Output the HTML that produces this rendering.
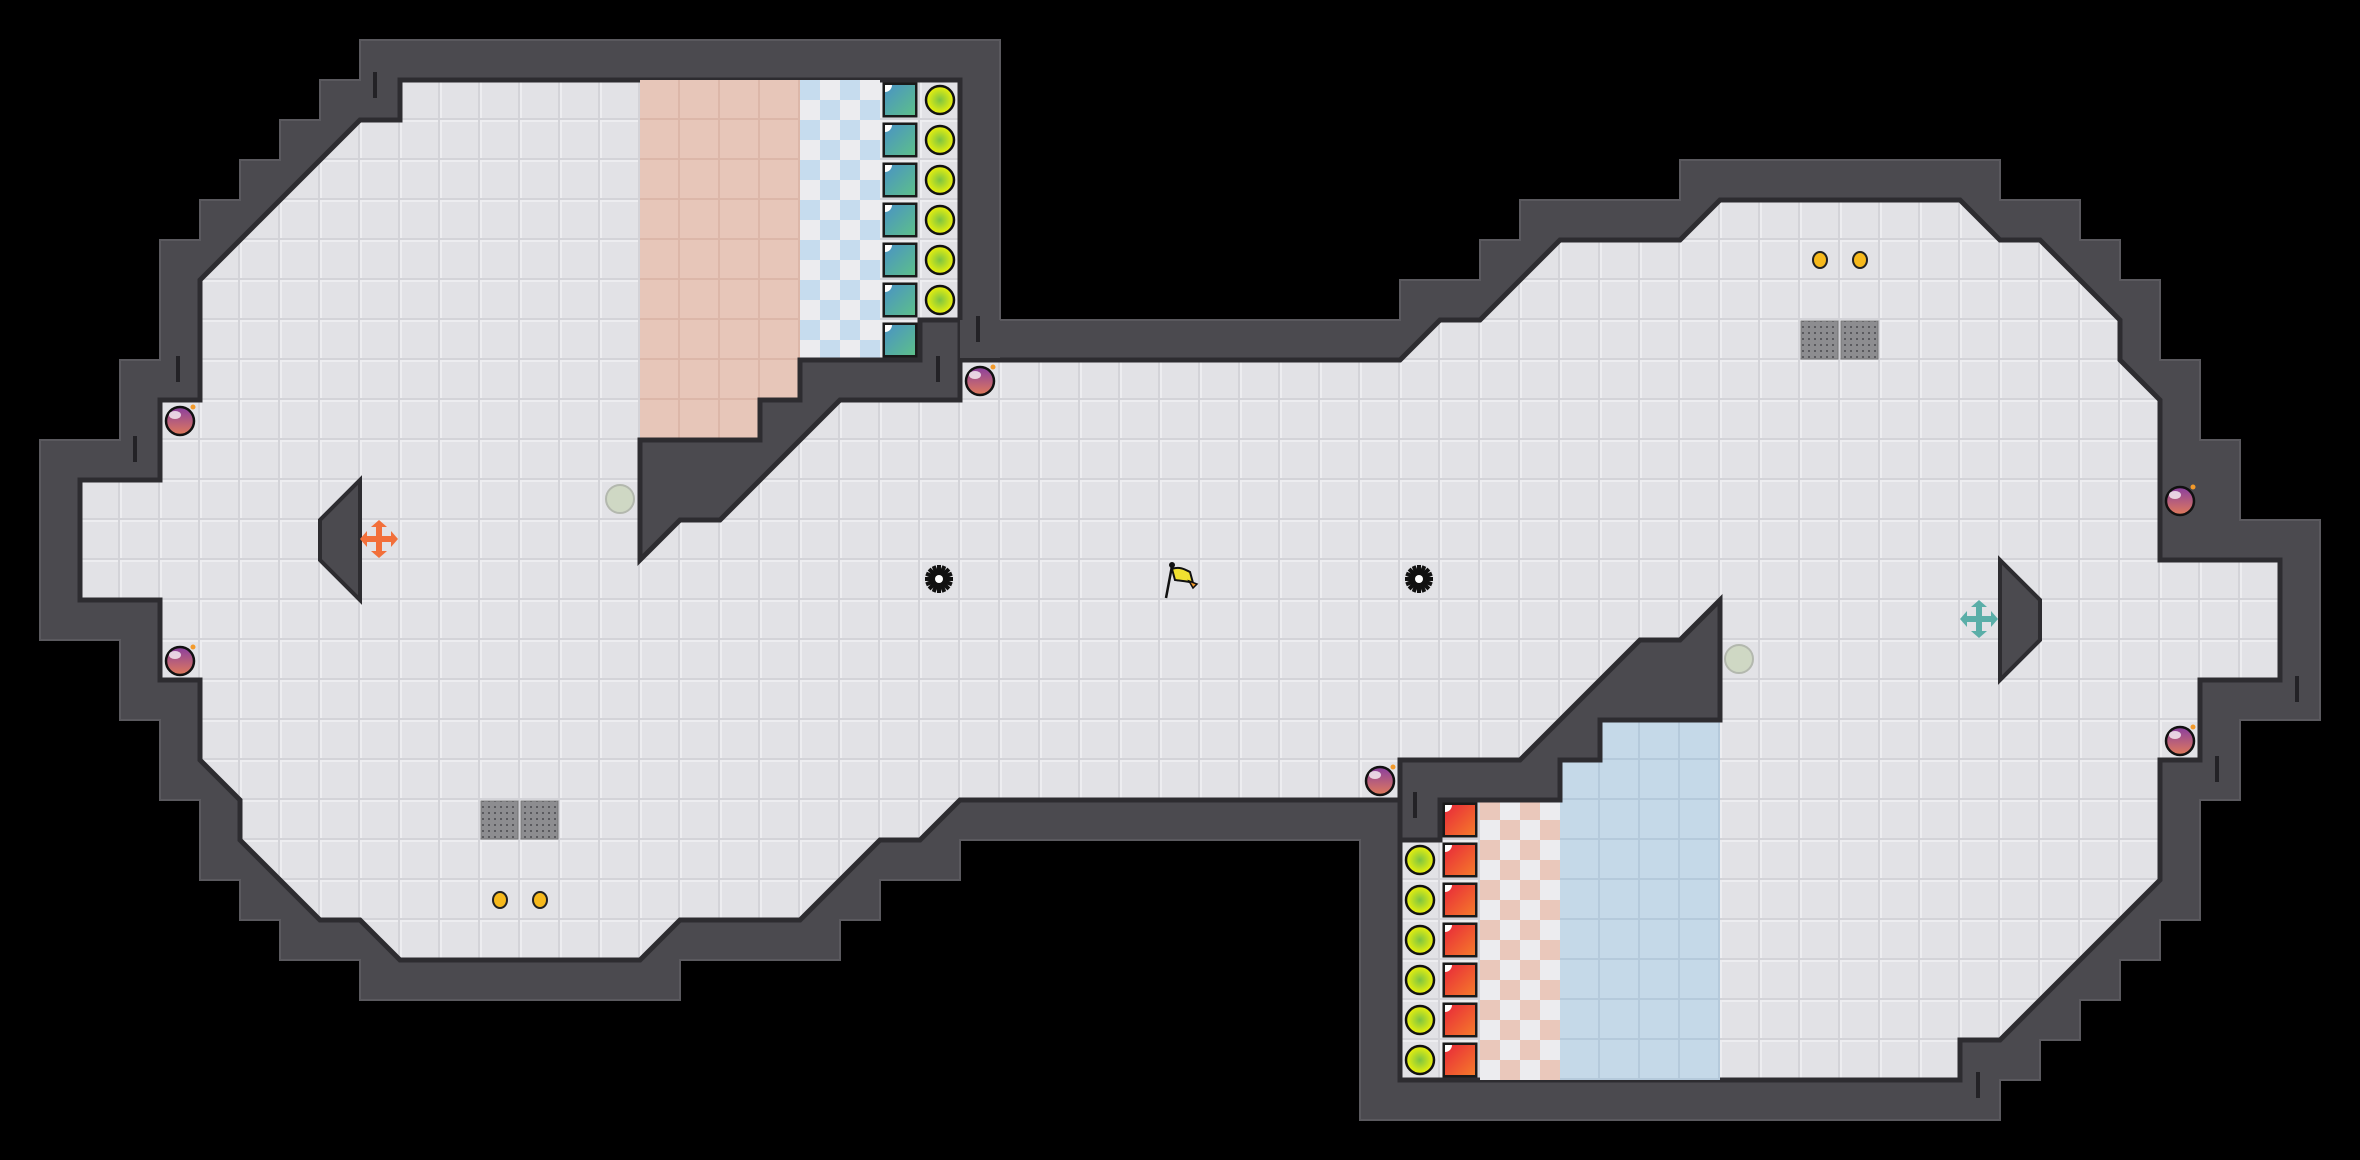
<!DOCTYPE html>
<html><head><meta charset="utf-8"><style>html,body{margin:0;padding:0;background:#000;}svg{display:block}</style></head>
<body>
<svg width="2360" height="1160" viewBox="0 0 2360 1160" xmlns="http://www.w3.org/2000/svg">
<defs>
<pattern id="tile" width="40" height="40" patternUnits="userSpaceOnUse">
<rect width="40" height="40" fill="#e2e2e6"/>
<rect x="0" y="0" width="40" height="2" fill="#ededf0"/>
<rect x="0" y="0" width="2" height="40" fill="#ededf0"/>
<rect x="0" y="38" width="40" height="2" fill="#d3d3d8"/>
<rect x="38" y="0" width="2" height="40" fill="#d3d3d8"/>
</pattern>
<pattern id="pink" width="40" height="40" patternUnits="userSpaceOnUse">
<rect width="40" height="40" fill="#e7c6b9"/>
<rect x="0" y="38" width="40" height="2" fill="#dcb7a9"/>
<rect x="38" y="0" width="2" height="40" fill="#dcb7a9"/>
</pattern>
<pattern id="blue" width="40" height="40" patternUnits="userSpaceOnUse">
<rect width="40" height="40" fill="#c5d9e8"/>
<rect x="0" y="38" width="40" height="2" fill="#b5cadb"/>
<rect x="38" y="0" width="2" height="40" fill="#b5cadb"/>
</pattern>
<pattern id="chkb" width="40" height="40" patternUnits="userSpaceOnUse">
<rect width="40" height="40" fill="#ececef"/>
<rect x="0" y="0" width="20" height="20" fill="#c6dcee"/>
<rect x="20" y="20" width="20" height="20" fill="#c6dcee"/>
</pattern>
<pattern id="chkp" width="40" height="40" patternUnits="userSpaceOnUse">
<rect width="40" height="40" fill="#ececef"/>
<rect x="0" y="0" width="20" height="20" fill="#eac8bb"/>
<rect x="20" y="20" width="20" height="20" fill="#eac8bb"/>
</pattern>
<radialGradient id="yel" cx="0.5" cy="0.5" r="0.5"><stop offset="0" stop-color="#7cc443"/><stop offset="1" stop-color="#eef20a"/></radialGradient>
<linearGradient id="teal" x1="0" y1="0" x2="1" y2="1"><stop offset="0" stop-color="#4a93c4"/><stop offset="1" stop-color="#5dbf8a"/></linearGradient>
<linearGradient id="red" x1="0" y1="0" x2="1" y2="1"><stop offset="0" stop-color="#e8293a"/><stop offset="1" stop-color="#f57a2a"/></linearGradient>
<linearGradient id="bomb" x1="0" y1="0" x2="0" y2="1"><stop offset="0" stop-color="#8a3fa0"/><stop offset="1" stop-color="#e07a5a"/></linearGradient>
<pattern id="grate" width="6" height="6" patternUnits="userSpaceOnUse"><rect width="6" height="6" fill="#8d8d90"/><rect x="2" y="2" width="2" height="2" fill="#5a5a5e"/></pattern>
<g id="ycirc"><circle cx="20" cy="20" r="14" fill="url(#yel)" stroke="#111" stroke-width="2.5"/></g>
<g id="tsq"><rect x="2.5" y="2.5" width="35" height="35" fill="#1a1a1a"/><rect x="5" y="5" width="30" height="30" fill="url(#teal)"/><path d="M5 5 h7 a7 7 0 0 1 -7 7z" fill="#fff"/></g>
<g id="rsq"><rect x="2.5" y="2.5" width="35" height="35" fill="#1a1a1a"/><rect x="5" y="5" width="30" height="30" fill="url(#red)"/><path d="M5 5 h7 a7 7 0 0 1 -7 7z" fill="#fff"/></g>
<g id="bmb"><circle cx="20" cy="21" r="14" fill="url(#bomb)" stroke="#111" stroke-width="2.5"/><ellipse cx="15" cy="15" rx="6" ry="4" fill="#fff" opacity="0.75"/><circle cx="33" cy="7" r="2.5" fill="#f39a2a"/></g>
<g id="gear"><circle cx="0" cy="0" r="10" fill="#111"/><g fill="#111"><rect x="-2" y="-14" width="4" height="28"/><rect x="-14" y="-2" width="28" height="4"/><rect x="-2" y="-14" width="4" height="28" transform="rotate(45)"/><rect x="-2" y="-14" width="4" height="28" transform="rotate(-45)"/><rect x="-2" y="-14" width="4" height="28" transform="rotate(22.5)"/><rect x="-2" y="-14" width="4" height="28" transform="rotate(-22.5)"/><rect x="-2" y="-14" width="4" height="28" transform="rotate(67.5)"/><rect x="-2" y="-14" width="4" height="28" transform="rotate(-67.5)"/></g><circle cx="0" cy="0" r="4" fill="#fff"/></g>
</defs>

<!-- outer wall -->
<polygon fill="#4b4a4f" stroke="#5a595e" stroke-width="2" points="360,40 1000,40 1000,320 1400,320 1400,280 1480,280 1480,240 1520,240 1520,200 1680,200 1680,160 2000,160 2000,200 2080,200 2080,240 2120,240 2120,280 2160,280 2160,360 2200,360 2200,440 2240,440 2240,520 2320,520 2320,720 2240,720 2240,800 2200,800 2200,920 2160,920 2160,960 2120,960 2120,1000 2080,1000 2080,1040 2040,1040 2040,1080 2000,1080 2000,1120 1360,1120 1360,840 960,840 960,880 880,880 880,920 840,920 840,960 680,960 680,1000 360,1000 360,960 280,960 280,920 240,920 240,880 200,880 200,800 160,800 160,720 120,720 120,640 40,640 40,440 120,440 120,360 160,360 160,240 200,240 200,200 240,200 240,160 280,160 280,120 320,120 320,80 360,80"/>

<!-- floor -->
<polygon fill="url(#tile)" stroke="#2d2c30" stroke-width="5" stroke-linejoin="miter" points="400,80 960,80 960,360 1400,360 1440,320 1480,320 1560,240 1680,240 1720,200 1960,200 2000,240 2040,240 2120,320 2120,360 2160,400 2160,560 2280,560 2280,680 2200,680 2200,760 2160,760 2160,880 2000,1040 1960,1040 1960,1080 1400,1080 1400,800 960,800 920,840 880,840 800,920 680,920 640,960 400,960 360,920 320,920 240,840 240,800 200,760 200,680 160,680 160,600 80,600 80,480 160,480 160,400 200,400 200,280 360,120 400,120"/>

<!-- colored zones -->
<rect x="640" y="80" width="160" height="320" fill="url(#pink)"/>
<rect x="640" y="400" width="120" height="40" fill="url(#pink)"/>
<rect x="800" y="80" width="80" height="280" fill="url(#chkb)"/>
<rect x="1560" y="760" width="160" height="320" fill="url(#blue)"/>
<rect x="1600" y="720" width="120" height="40" fill="url(#blue)"/>
<rect x="1480" y="800" width="80" height="280" fill="url(#chkp)"/>

<!-- inner dark blocks -->
<polygon fill="#4b4a4f" stroke="#2d2c30" stroke-width="5" points="640,440 760,440 760,400 800,400 800,360 920,360 920,320 960,320 960,400 840,400 720,520 680,520 640,560"/>
<polygon fill="#4b4a4f" stroke="#2d2c30" stroke-width="5" points="1400,760 1520,760 1640,640 1680,640 1720,600 1720,720 1600,720 1600,760 1560,760 1560,800 1440,800 1440,840 1400,840"/>
<polygon fill="#4b4a4f" stroke="#2d2c30" stroke-width="4" points="360,480 360,600 320,560 320,520"/>
<polygon fill="#4b4a4f" stroke="#2d2c30" stroke-width="4" points="2000,560 2040,600 2040,640 2000,680"/>
<!-- redraw top wall edge cover near room right -->
<rect x="960" y="320" width="40" height="38" fill="#4b4a4f"/>

<!-- wall ticks -->
<g fill="#232226">
<rect x="373" y="72" width="4" height="26"/><rect x="176" y="356" width="4" height="26"/><rect x="133" y="436" width="4" height="26"/>
<rect x="976" y="316" width="4" height="26"/><rect x="936" y="356" width="4" height="26"/><rect x="1413" y="792" width="4" height="26"/>
<rect x="1976" y="1072" width="4" height="26"/><rect x="2215" y="756" width="4" height="26"/><rect x="2295" y="676" width="4" height="26"/>
</g>

<!-- teal squares -->
<use href="#tsq" x="880" y="80"/><use href="#tsq" x="880" y="120"/><use href="#tsq" x="880" y="160"/><use href="#tsq" x="880" y="200"/><use href="#tsq" x="880" y="240"/><use href="#tsq" x="880" y="280"/><use href="#tsq" x="880" y="320"/>
<!-- yellow circles left -->
<use href="#ycirc" x="920" y="80"/><use href="#ycirc" x="920" y="120"/><use href="#ycirc" x="920" y="160"/><use href="#ycirc" x="920" y="200"/><use href="#ycirc" x="920" y="240"/><use href="#ycirc" x="920" y="280"/>
<!-- red squares -->
<use href="#rsq" x="1440" y="800"/><use href="#rsq" x="1440" y="840"/><use href="#rsq" x="1440" y="880"/><use href="#rsq" x="1440" y="920"/><use href="#rsq" x="1440" y="960"/><use href="#rsq" x="1440" y="1000"/><use href="#rsq" x="1440" y="1040"/>
<!-- yellow circles right -->
<use href="#ycirc" x="1400" y="840"/><use href="#ycirc" x="1400" y="880"/><use href="#ycirc" x="1400" y="920"/><use href="#ycirc" x="1400" y="960"/><use href="#ycirc" x="1400" y="1000"/><use href="#ycirc" x="1400" y="1040"/>

<!-- bombs -->
<use href="#bmb" x="160" y="400"/><use href="#bmb" x="160" y="640"/><use href="#bmb" x="960" y="360"/><use href="#bmb" x="1360" y="760"/><use href="#bmb" x="2160" y="480"/><use href="#bmb" x="2160" y="720"/>

<!-- pale ellipses -->
<circle cx="620" cy="499" r="14" fill="#cfd8c4" stroke="#b3b8ae" stroke-width="2"/>
<circle cx="1739" cy="659" r="14" fill="#cfd8c4" stroke="#b3b8ae" stroke-width="2"/>

<!-- crosses -->
<g transform="translate(379,539)" fill="#f26f3a"><rect x="-14" y="-3" width="28" height="6"/><rect x="-3" y="-14" width="6" height="28"/><path d="M-8 -12 L0 -19 L8 -12Z M-8 12 L0 19 L8 12Z M-12 -8 L-19 0 L-12 8Z M12 -8 L19 0 L12 8Z"/></g>
<g transform="translate(1979,619)" fill="#5aaea8"><rect x="-14" y="-3" width="28" height="6"/><rect x="-3" y="-14" width="6" height="28"/><path d="M-8 -12 L0 -19 L8 -12Z M-8 12 L0 19 L8 12Z M-12 -8 L-19 0 L-12 8Z M12 -8 L19 0 L12 8Z"/></g>

<!-- gears -->
<use href="#gear" transform="translate(939,579)"/>
<use href="#gear" transform="translate(1419,579)"/>

<!-- flag -->
<g transform="translate(1160,560)">
<line x1="6" y1="38" x2="12" y2="6" stroke="#111" stroke-width="2.5"/>
<circle cx="12" cy="5" r="3" fill="#111"/>
<path d="M12 9 C20 6 26 10 30 12 L33 23 C28 21 22 21 15 20Z" fill="#f0e030" stroke="#111" stroke-width="2"/>
<path d="M29 21 L37 24 L33 28 Z" fill="#f39a2a" stroke="#111" stroke-width="1.5"/>
</g>

<!-- grates -->
<rect x="1801" y="321" width="37" height="38" fill="url(#grate)" stroke="#777" stroke-width="1"/>
<rect x="1841" y="321" width="37" height="38" fill="url(#grate)" stroke="#777" stroke-width="1"/>
<rect x="481" y="801" width="37" height="38" fill="url(#grate)" stroke="#777" stroke-width="1"/>
<rect x="521" y="801" width="37" height="38" fill="url(#grate)" stroke="#777" stroke-width="1"/>

<!-- coins -->
<g fill="#f6b91c" stroke="#222" stroke-width="2">
<ellipse cx="1820" cy="260" rx="7" ry="8"/><ellipse cx="1860" cy="260" rx="7" ry="8"/>
<ellipse cx="500" cy="900" rx="7" ry="8"/><ellipse cx="540" cy="900" rx="7" ry="8"/>
</g>
</svg>
</body></html>
